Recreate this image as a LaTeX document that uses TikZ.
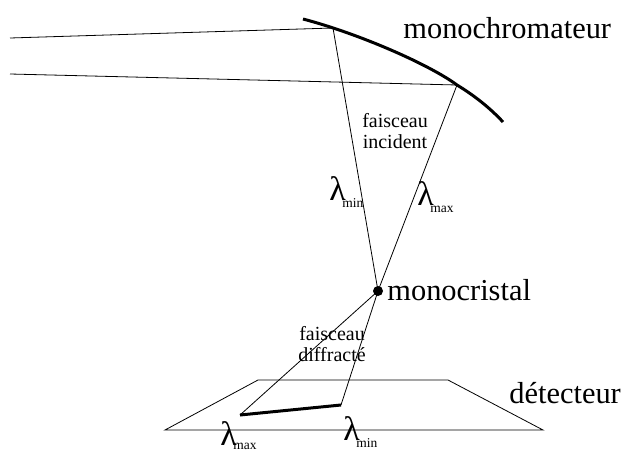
\documentclass[tikz,border=0pt]{standalone}
\usepackage{fontspec}
\setmainfont{Liberation Serif}
\usetikzlibrary{positioning}
\tikzset{
  every picture/.style={x=1pt, y=-1pt, line width=0.8pt},
  beam/.style={line width=0.8pt},
  thick line/.style={line width=3pt},
  big/.style={font=\fontsize{30.4}{32}\selectfont, inner sep=0pt, anchor=base west},
  lbl/.style={font=\fontsize{20}{21}\selectfont, inner sep=0pt, align=center},
  lam/.style={font=\fontsize{34}{36}\selectfont, inner sep=0pt, anchor=base west},
  sublbl/.style={font=\fontsize{13.5}{14}\selectfont, inner sep=0pt, anchor=base west},
  spot/.style={circle, fill=black, inner sep=0pt, minimum size=10pt},
}
\begin{document}
\begin{tikzpicture}
  \useasboundingbox (0,0) rectangle (623,450);
  % incoming rays and the curved crystal
  \coordinate (in1) at (10,38);
  \coordinate (in2) at (10,74);
  \coordinate (m1) at (333,28);
  \coordinate (m2) at (457,85);
  \coordinate (d1) at (341,405);
  \coordinate (d2) at (240,415);
  \node[spot] (xtal) at (378,291) {};
  \draw[beam] (in1) -- (m1) -- (xtal.center);
  \draw[beam] (in2) -- (m2) -- (xtal.center);
  \draw[thick line] (303,19) .. controls (360,34) and (430,65) .. (m2) .. controls (475,96) and (490,108) .. (503,122);
  % detector
  \coordinate (p1) at (165,430);
  \coordinate (p2) at (258,380);
  \coordinate (p3) at (448,380);
  \coordinate (p4) at (543,430);
  \draw[beam] (p1) -- (p2) -- (p3) -- (p4) -- cycle;
  \draw[beam] (xtal.center) -- (d2);
  \draw[beam] (xtal.center) -- (d1);
  \draw[thick line] (d2) -- (d1);
  % labels
  \node[big] (mono) at (403,38) {monochromateur};
  \node[big] (cris) at (387,300) {monocristal};
  \node[big] (det) at (509,403) {détecteur};
  \node[lbl] (inc) at (395,131) {faisceau\\incident};
  \node[lbl] (dif) at (332,344) {faisceau\\diffracté};
  \node[lam] (la1) at (329,200) {λ};
  \node[sublbl] (su1) at (342,207) {min};
  \node[lam] (la2) at (417,205) {λ};
  \node[sublbl] (su2) at (430,212) {max};
  \node[lam] (la3) at (220,445) {λ};
  \node[sublbl] (su3) at (233,449.5) {max};
  \node[lam] (la4) at (343,440) {λ};
  \node[sublbl] (su4) at (356,447) {min};
\end{tikzpicture}
\end{document}
